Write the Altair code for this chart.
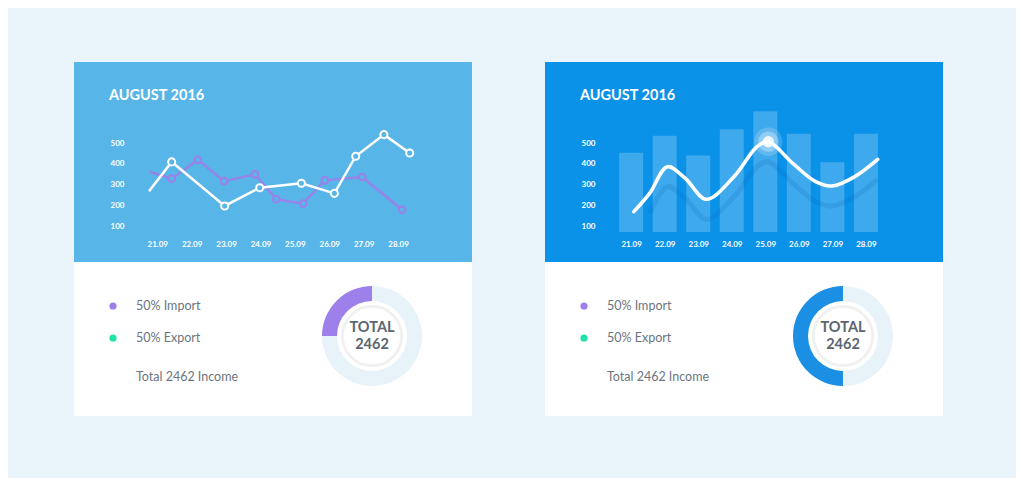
import json
import altair as alt
import pandas as pd

# ---------------- data ----------------
dates = ['21.09', '22.09', '23.09', '24.09', '25.09', '26.09', '27.09', '28.09']
y_ticks = [100, 200, 300, 400, 500]
title_text = 'AUGUST 2016'

# left card: two line series (x is position in date-slots, y value)
white_x = [-0.24, 0.42, 1.96, 2.98, 4.19, 5.15, 5.77, 6.59, 7.34]
white_y = [270, 410, 200, 287, 308, 260, 437, 540, 452]
purple_x = [-0.21, 0.42, 1.18, 1.94, 2.84, 3.46, 4.24, 4.87, 5.96, 7.12]
purple_y = [362, 330, 420, 318, 351, 232, 211, 322, 338, 182]

# right card: bars + smooth curve
bar_values = [454, 535, 441, 565, 651, 544, 408, 544]
bar_base = 76
curve_x = [0.08, 0.55, 1.08, 1.61, 2.24, 3.07, 3.75, 4.09, 4.82, 5.50, 5.99, 6.67, 7.35]
curve_y = [173, 260, 387, 332, 232, 340, 482, 506, 403, 316, 295, 340, 422]

# bottom sections
legend_labels = ['50% Import', '50% Export']
income_label = 'Total 2462 Income'
total_lines = ['TOTAL', '2462']
donut_parts = ['rest', 'share']
donut_left_values = [75, 25]
donut_right_values = [50, 50]

# ---------------- styles ----------------
BG = '#E9F5FA'
LEFT_HEAD = '#57B5E7'
RIGHT_HEAD = '#0A91E8'
PURPLE = '#9D80E9'
GREEN = '#1DE2A9'
TEXT_GRAY = '#6B757E'
TOTAL_GRAY = '#5C6670'
TRACK = '#E8F3F9'
RIGHT_DONUT = '#1A8FE3'
FONT = 'Lato'

CARD_W = 398
HEAD_H = 200
FOOT_H = 154
X_DOMAIN = [-2.42, 9.15]
Y_DOMAIN = [-67, 886]

label_expr = json.dumps(dates) + '[datum.value]'

x_axis = alt.Axis(values=list(range(len(dates))), labelExpr=label_expr, orient='bottom',
                  offset=-22, domain=False, ticks=False, tickSize=0, grid=False,
                  labelColor='white', labelFont=FONT, labelFontWeight='bold', labelFontSize=8,
                  labelPadding=0, labelOverlap=False, labelBound=False, labelFlush=False, title=None)
y_axis = alt.Axis(values=y_ticks, orient='left', offset=-36, domain=False, ticks=False, tickSize=0,
                  grid=False, labelAlign='left', labelBaseline='middle', labelPadding=0,
                  labelColor='white', labelFont=FONT, labelFontWeight='bold', labelFontSize=8,
                  labelOverlap=False, labelBound=False, labelFlush=False, title=None)


def X(field):
    return alt.X(f'{field}:Q', scale=alt.Scale(domain=X_DOMAIN, nice=False, zero=False), axis=x_axis)


def Y(field):
    return alt.Y(f'{field}:Q', scale=alt.Scale(domain=Y_DOMAIN, nice=False, zero=False), axis=y_axis)


def head_title():
    return alt.Title(title_text, anchor='start', frame='group', orient='top', offset=-41, dx=35,
                     baseline='top', color='white', font=FONT, fontSize=14.5, fontWeight='bold')


# ---------------- left header ----------------
white_df = pd.DataFrame({'x': white_x, 'y': white_y})
purple_df = pd.DataFrame({'x': purple_x, 'y': purple_y})

p_line = alt.Chart(purple_df).mark_line(color=PURPLE, strokeWidth=2.5, opacity=0.9).encode(x=X('x'), y=Y('y'))
p_pts = alt.Chart(purple_df.iloc[1:]).mark_point(shape='circle', filled=True, fill=LEFT_HEAD, stroke=PURPLE,
                                                  strokeWidth=2, size=45, opacity=1).encode(x=X('x'), y=Y('y'))
w_line = alt.Chart(white_df).mark_line(color='white', strokeWidth=2.5).encode(x=X('x'), y=Y('y'))
w_pts = alt.Chart(white_df.iloc[1:]).mark_point(shape='circle', filled=True, fill=LEFT_HEAD, stroke='white',
                                                 strokeWidth=2, size=50, opacity=1).encode(x=X('x'), y=Y('y'))

left_head = alt.layer(p_line, p_pts, w_line, w_pts).properties(
    width=CARD_W, height=HEAD_H, title=head_title(),
    view=alt.ViewBackground(fill=LEFT_HEAD, strokeWidth=0))

# ---------------- right header ----------------
bar_df = pd.DataFrame({'x': list(range(len(dates))), 'y': bar_values})
curve_df = pd.DataFrame({'x': curve_x, 'y': curve_y})
peak_i = curve_y.index(max(curve_y))
peak_df = curve_df.iloc[[peak_i]]

bars = alt.Chart(bar_df).mark_bar(size=24, color='white', opacity=0.22).encode(
    x=X('x'), y=Y('y'), y2=alt.Y2(datum=bar_base))
shadow = alt.Chart(curve_df.iloc[1:]).mark_line(interpolate='catmull-rom', color='#0565B0', strokeWidth=5,
                                                 opacity=0.17, yOffset=20).encode(x=X('x'), y=Y('y'))
curve = alt.Chart(curve_df).mark_line(interpolate='catmull-rom', color='white', strokeWidth=3.6,
                                      strokeCap='round').encode(x=X('x'), y=Y('y'))
glow1 = alt.Chart(peak_df).mark_circle(color='white', size=800, opacity=0.18).encode(x=X('x'), y=Y('y'))
glow2 = alt.Chart(peak_df).mark_circle(color='white', size=420, opacity=0.3).encode(x=X('x'), y=Y('y'))
glow3 = alt.Chart(peak_df).mark_circle(color='white', size=130, opacity=0.85).encode(x=X('x'), y=Y('y'))

right_head = alt.layer(bars, shadow, curve, glow1, glow2, glow3).properties(
    width=CARD_W, height=HEAD_H, title=head_title(),
    view=alt.ViewBackground(fill=RIGHT_HEAD, strokeWidth=0))

# ---------------- bottom sections ----------------
DOT_X, TEXT_X = 39, 62
ROW_Y = [44, 76]
INCOME_Y = 115
DONUT_X, DONUT_Y = 298, 74
TOTAL_Y = [66, 83]


def footer(values, share_color):
    layers = []
    for label, color, ry in zip(legend_labels, [PURPLE, GREEN], ROW_Y):
        d = pd.DataFrame({'label': [label]})
        layers.append(alt.Chart(d).mark_circle(color=color, size=52, opacity=1).encode(
            x=alt.value(DOT_X), y=alt.value(ry)))
        layers.append(alt.Chart(d).mark_text(align='left', baseline='middle', font=FONT, fontSize=12.5,
                                             color=TEXT_GRAY).encode(
            text='label:N', x=alt.value(TEXT_X), y=alt.value(ry)))
    layers.append(alt.Chart(pd.DataFrame({'label': [income_label]})).mark_text(
        align='left', baseline='middle', font=FONT, fontSize=12.5, color=TEXT_GRAY).encode(
        text='label:N', x=alt.value(TEXT_X), y=alt.value(INCOME_Y)))

    donut_df = pd.DataFrame({'part': donut_parts, 'value': values, 'k': [0, 1]})
    layers.append(alt.Chart(donut_df).mark_arc(radius=50, radius2=35).encode(
        theta=alt.Theta('value:Q', stack=True),
        order=alt.Order('k:Q'),
        color=alt.Color('part:N', scale=alt.Scale(domain=donut_parts, range=[TRACK, share_color]), legend=None),
        x=alt.value(DONUT_X), y=alt.value(DONUT_Y)))
    layers.append(alt.Chart(donut_df.iloc[[0]]).mark_circle(color='#ECECEC', size=3850, opacity=0.8).encode(
        x=alt.value(DONUT_X), y=alt.value(DONUT_Y)))
    layers.append(alt.Chart(donut_df.iloc[[0]]).mark_circle(color='white', size=3200, opacity=1).encode(
        x=alt.value(DONUT_X), y=alt.value(DONUT_Y)))
    for t, ty in zip(total_lines, TOTAL_Y):
        layers.append(alt.Chart(pd.DataFrame({'t': [t]})).mark_text(
            align='center', baseline='middle', font=FONT, fontSize=14.5, fontWeight='bold',
            color=TOTAL_GRAY).encode(text='t:N', x=alt.value(DONUT_X), y=alt.value(ty)))
    return alt.layer(*layers).properties(width=CARD_W, height=FOOT_H,
                                         view=alt.ViewBackground(fill='white', strokeWidth=0))


left_card = alt.vconcat(left_head, footer(donut_left_values, PURPLE), spacing=0)
right_card = alt.vconcat(right_head, footer(donut_right_values, RIGHT_DONUT), spacing=0)

chart = alt.hconcat(left_card, right_card, spacing=73).resolve_scale(
    color='independent'
).configure(
    background=BG, padding={'left': 66, 'top': 54, 'right': 73, 'bottom': 62}
).configure_view(strokeWidth=0)

chart.save('out.html', embed_options={'renderer': 'svg', 'actions': False})
